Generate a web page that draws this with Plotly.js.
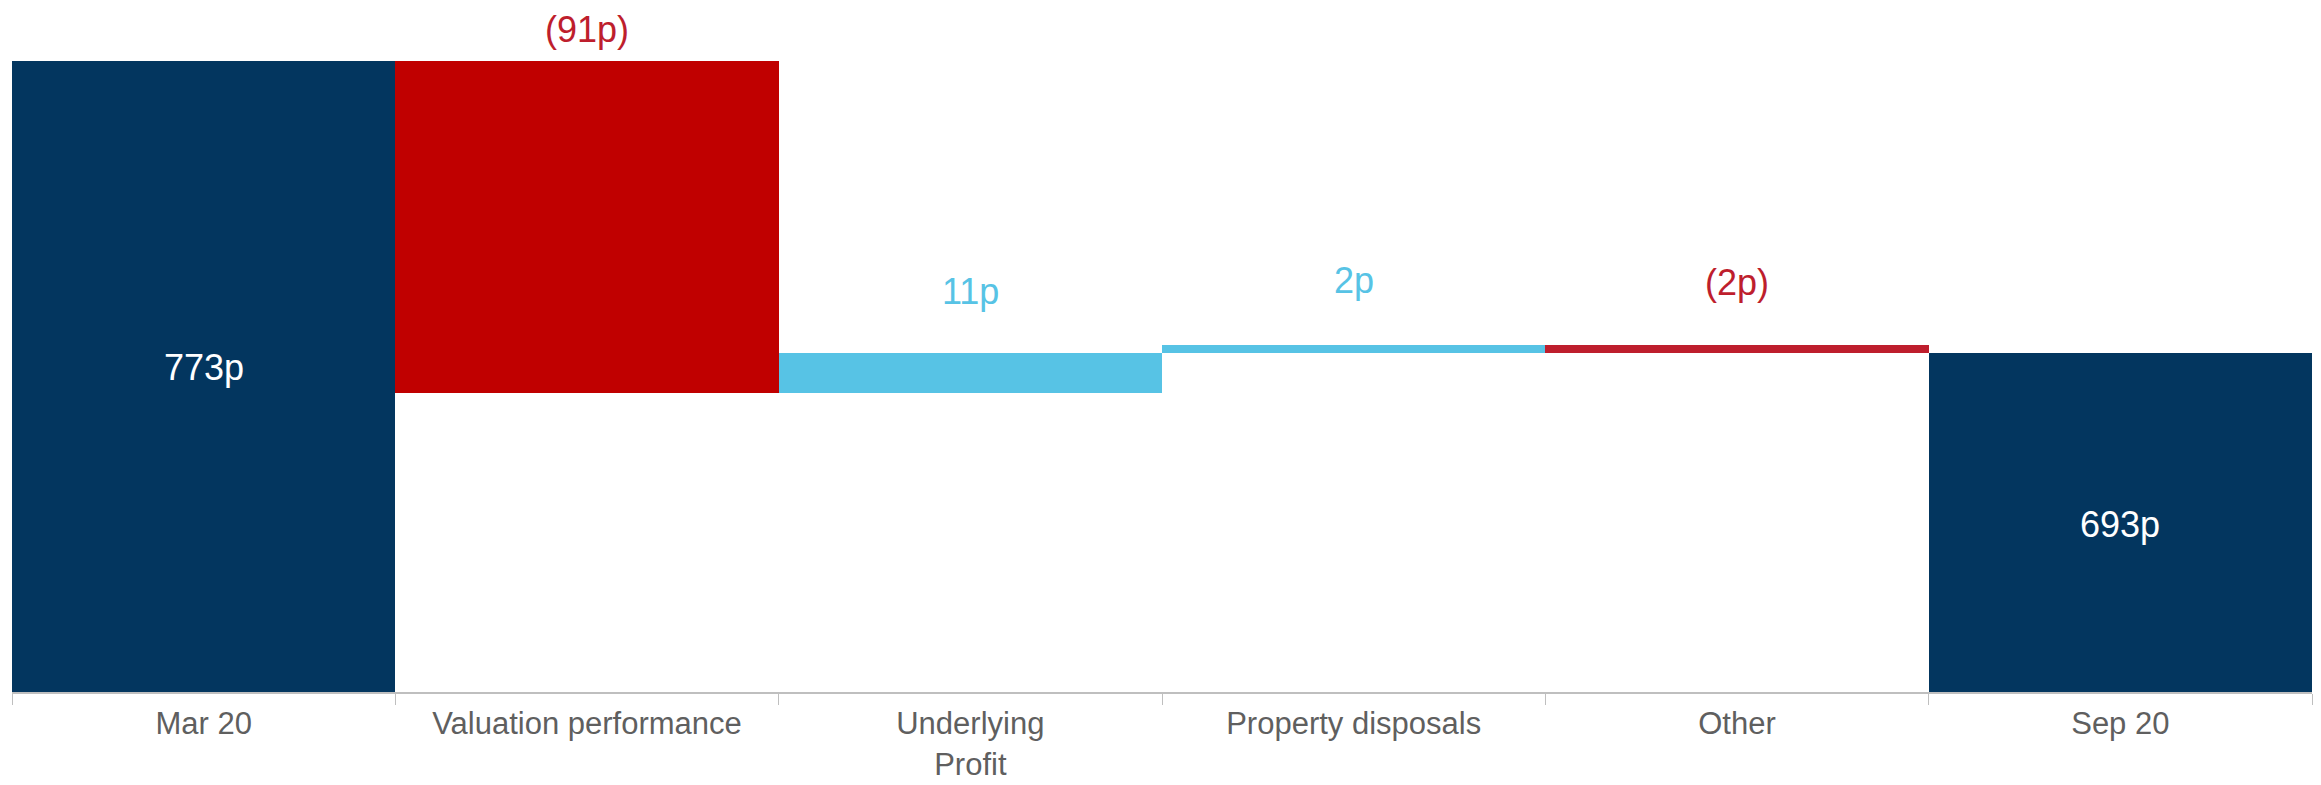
<!DOCTYPE html>
<html>
<head>
<meta charset="utf-8">
<script src="https://cdn.plot.ly/plotly-3.0.1.min.js"></script>
<style>html,body{margin:0;padding:0;background:#fff;}#chart{width:2321px;height:785px;}</style>
</head>
<body>
<div id="chart"></div>
<script>
const categories = ['Mar 20', 'Valuation performance', 'Underlying<br>Profit', 'Property disposals', 'Other', 'Sep 20'];
const values = [773, -91, 11, 2, -2, 693];
const measures = ['absolute', 'relative', 'relative', 'relative', 'relative', 'total'];
const labels = ['773p', '(91p)', '11p', '2p', '(2p)', '693p'];
const barColors = ['#03365F', '#C00000', '#57C3E5', '#57C3E5', '#BE1E2D', '#03365F'];
const labelColors = ['#FFFFFF', '#BE1E2D', '#57C3E5', '#57C3E5', '#BE1E2D', '#FFFFFF'];

// build bases/heights from the waterfall data
const bases = [], heights = [];
let running = 0;
values.forEach((v, i) => {
  if (measures[i] === 'absolute') { bases.push(0); heights.push(v); running = v; }
  else if (measures[i] === 'total') { bases.push(0); heights.push(v); running = v; }
  else { bases.push(running); heights.push(v); running += v; }
});

const yMin = 600, yMax = 789.6;
const annotations = labels.map((t, i) => {
  const top = Math.max(bases[i], bases[i] + heights[i]);
  const isTotal = measures[i] !== 'relative';
  const shifts = [0, 31, 61, 65, 63, 0];
  return {
    x: categories[i], xref: 'x', yref: 'y',
    y: isTotal ? (yMin + top) / 2 : top,
    yshift: isTotal ? (i === 0 ? 9 : -2) : shifts[i],
    text: t, showarrow: false, yanchor: 'middle',
    font: {family: 'Liberation Sans, Arial, sans-serif', size: 36, color: labelColors[i]}
  };
});

const trace = {
  type: 'bar', x: categories, y: heights, base: bases,
  marker: {color: barColors, line: {width: 0}},
  hoverinfo: 'skip', showlegend: false
};

const layout = {
  width: 2321, height: 785,
  margin: {l: 12, r: 9, t: 0, b: 93},
  paper_bgcolor: '#fff', plot_bgcolor: '#fff',
  bargap: 0,
  xaxis: {
    type: 'category', showgrid: false, zeroline: false,
    showline: true, linecolor: '#BFBFBF', linewidth: 2,
    ticks: 'outside', tickson: 'boundaries', ticklen: 11, tickcolor: '#BFBFBF', tickwidth: 1,
    tickfont: {family: 'Liberation Sans, Arial, sans-serif', size: 31, color: '#5F5F5F'},
    ticklabelstandoff: 3
  },
  yaxis: {range: [yMin, yMax], visible: false, showgrid: false, zeroline: false, fixedrange: true},
  annotations: annotations,
  font: {family: 'Liberation Sans, Arial, sans-serif'}
};

Plotly.newPlot('chart', [trace], layout, {displayModeBar: false, staticPlot: true});
</script>
</body>
</html>
